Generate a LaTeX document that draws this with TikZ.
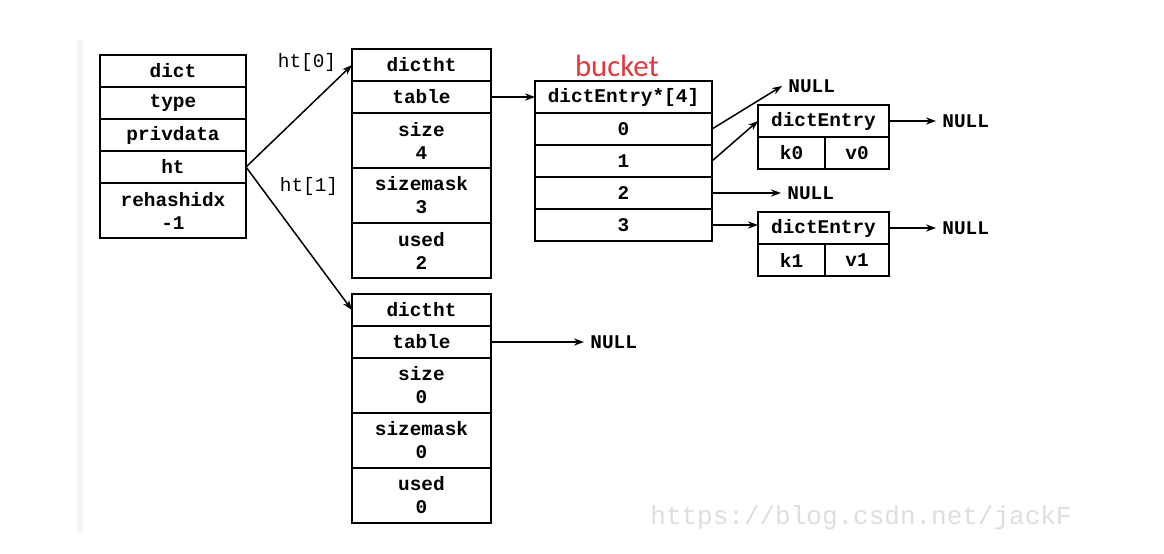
\documentclass[tikz,border=0pt]{standalone}
\usepackage{fontspec}
\setmonofont{Liberation Mono}
\newfontfamily\bucketfont{Carlito}
\usepackage{tikz}
\usetikzlibrary{arrows.meta,calc,positioning,shapes}
\tikzset{
  cell/.style = {draw, rectangle, line width=0.9pt, inner sep=0pt, outer sep=0pt,
  align=center, text centered, font=\fontsize{9.7}{11.5}\selectfont\ttfamily\bfseries},
  cell_s/.style = {cell, minimum height=16pt},
  cell_d/.style = {cell, minimum height=27.5pt},
  dict_c/.style = {minimum width=73pt},
  ht_c/.style = {minimum width=69.5pt},
  bk_c/.style = {minimum width=88.5pt},
  en_c/.style = {minimum width=65.5pt},
  null_n/.style = {inner sep=3pt, anchor=west, font=\fontsize{9.7}{11.5}\selectfont\ttfamily\bfseries},
  lbl/.style = {inner sep=1pt, font=\fontsize{9.7}{11.5}\selectfont\ttfamily}
}
\definecolor{my_red}{RGB}{226, 56, 62}
\definecolor{my_gray}{RGB}{222, 222, 222}
\definecolor{my_strip}{RGB}{240, 244, 244}

\begin{document}
\begin{tikzpicture}[x=0.5pt, y=-0.5pt,
        link/.style={->, >={Stealth[length=5pt,width=3.6pt]}, line width=0.75pt}]
    \fill [white] (0,0) rectangle (1164,553);
    \fill [my_strip] (77,40) rectangle (83,532);
    \useasboundingbox (0,0) rectangle (1164,553);

    % dict
    \node [cell_s, dict_c, anchor=north west] (dict) at (100,55) {dict};
    \node [cell_s, dict_c, below=0pt of dict] (type) {type};
    \node [cell_s, dict_c, below=0pt of type] (privdata) {privdata};
    \node [cell_s, dict_c, below=0pt of privdata] (ht) {ht};
    \node [cell_d, dict_c, below=0pt of ht] (rehashidx) {rehashidx\\-1};

    % ht[0]
    \node [cell_s, ht_c, anchor=north west] (h0hd) at (352,49) {dictht};
    \node [cell_s, ht_c, below=0pt of h0hd] (h0tab) {table};
    \node [cell_d, ht_c, below=0pt of h0tab] (h0size) {size\\4};
    \node [cell_d, ht_c, below=0pt of h0size] (h0mask) {sizemask\\3};
    \node [cell_d, ht_c, below=0pt of h0mask] (h0used) {used\\2};

    % ht[1]
    \node [cell_s, ht_c, anchor=north west] (h1hd) at (352,294) {dictht};
    \node [cell_s, ht_c, below=0pt of h1hd] (h1tab) {table};
    \node [cell_d, ht_c, below=0pt of h1tab] (h1size) {size\\0};
    \node [cell_d, ht_c, below=0pt of h1size] (h1mask) {sizemask\\0};
    \node [cell_d, ht_c, below=0pt of h1mask] (h1used) {used\\0};

    \node [lbl] (ht0lbl) at (307,62) {ht[0]};
    \node [lbl] (ht1lbl) at (309,186) {ht[1]};

    % bucket
    \node [text=my_red, inner sep=0pt, font=\bucketfont\fontsize{15.4}{18}\selectfont] (bucket) at (617,66) {bucket};
    \node [cell_s, bk_c, anchor=north west] (bkhd) at (535,81) {dictEntry*[4]};
    \node [cell_s, bk_c, below=0pt of bkhd] (b0) {0};
    \node [cell_s, bk_c, below=0pt of b0] (b1) {1};
    \node [cell_s, bk_c, below=0pt of b1] (b2) {2};
    \node [cell_s, bk_c, below=0pt of b2] (b3) {3};

    % entries
    \node [cell_s, en_c, anchor=north west] (e0hd) at (758,105) {dictEntry};
    \node [cell_s, minimum width=33.5pt, anchor=north west] (k0) at (e0hd.south west) {k0};
    \node [cell_s, minimum width=32pt, anchor=north east] (v0) at (e0hd.south east) {v0};
    \node [cell_s, en_c, anchor=north west] (e1hd) at (758,212) {dictEntry};
    \node [cell_s, minimum width=33.5pt, anchor=north west] (k1) at (e1hd.south west) {k1};
    \node [cell_s, minimum width=32pt, anchor=north east] (v1) at (e1hd.south east) {v1};

    \node [null_n] (nullA) at (782,86) {NULL};
    \node [null_n] (nullB) at (e0hd.east -| 936,0) {NULL};
    \node [null_n] (nullC) at (b2.east -| 781,0) {NULL};
    \node [null_n] (nullD) at (e1hd.east -| 936,0) {NULL};
    \node [null_n] (nullE) at (h1tab.east -| 584,0) {NULL};

    \draw [link] (ht.east) -- (h0hd.west);
    \draw [link] (ht.east) -- (h1hd.west);
    \draw [link] (h0tab.east) -- (h0tab.east -| bkhd.west);
    \draw [link] (h1tab.east) -- (nullE.west);
    \draw [link] (b0.east) -- (nullA.west);
    \draw [link] (b1.east) -- (e0hd.west);
    \draw [link] (b2.east) -- (nullC.west);
    \draw [link] (b3.east) -- (b3.east -| e1hd.west);
    \draw [link] (e0hd.east) -- (nullB.west);
    \draw [link] (e1hd.east) -- (nullD.west);

    \node [anchor=west, inner sep=0pt, text=my_gray, font=\fontsize{13}{15}\selectfont\ttfamily] (mark) at (650,518) {https://blog.csdn.net/jackF};
\end{tikzpicture}
\end{document}
